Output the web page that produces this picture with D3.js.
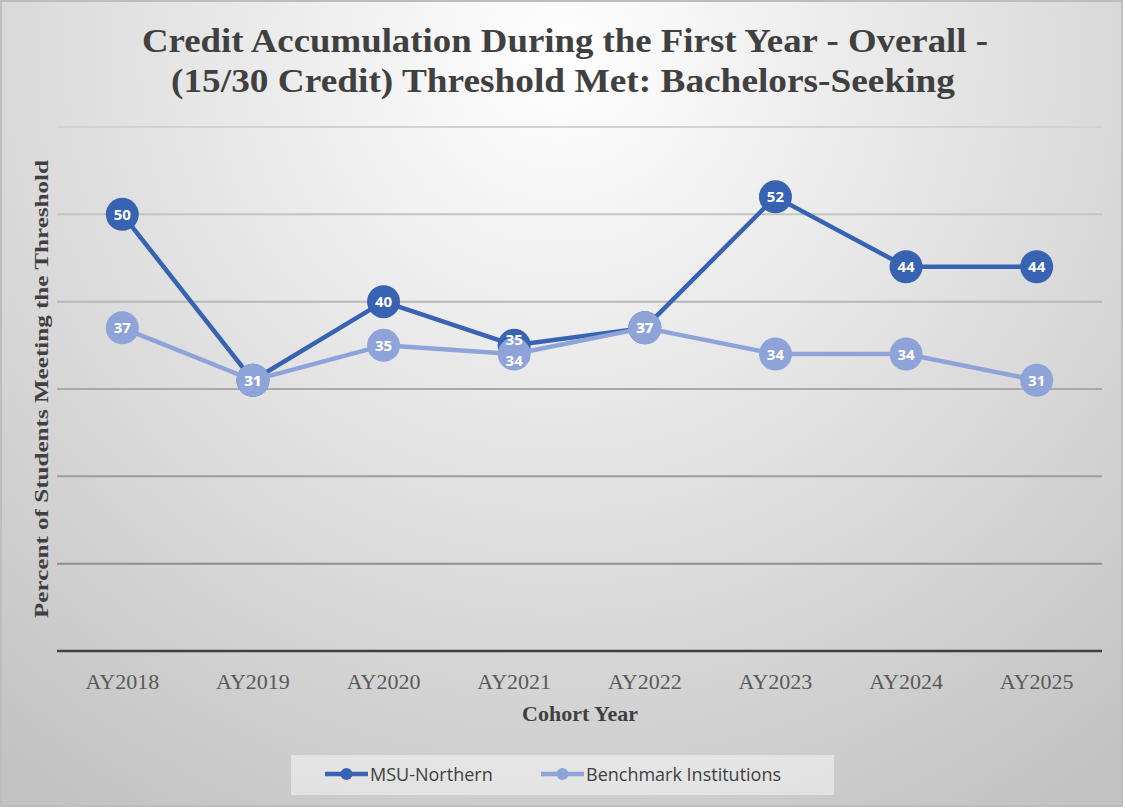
<!DOCTYPE html>
<html>
<head>
<meta charset="utf-8">
<script src="https://cdn.jsdelivr.net/npm/d3@7"></script>
<style>
  html, body { margin: 0; padding: 0; background: #fff; }
  svg { display: block; }
</style>
</head>
<body>
<svg id="chart" width="1125" height="809"></svg>
<script>
// chart data
var years = ["AY2018", "AY2019", "AY2020", "AY2021", "AY2022", "AY2023", "AY2024", "AY2025"];
var msuNorthern = [50, 31, 40, 35, 37, 52, 44, 44];
var benchmark = [37, 31, 35, 34, 37, 34, 34, 31];
var seriesNames = ["MSU-Northern", "Benchmark Institutions"];
var yTicks = [0, 10, 20, 30, 40, 50, 60];

var darkBlue = "#3862b2";
var lightBlue = "#8ea4d9";

function drawChart()
{
  var svg = d3.select("#chart");
  var W = 1125, H = 809;
  var left = 57, right = 1102, top = 127, bottom = 651;

  var defs = svg.append("defs");
  var grad = defs.append("radialGradient")
      .attr("id", "bg")
      .attr("gradientUnits", "userSpaceOnUse")
      .attr("cx", 560).attr("cy", 60).attr("r", 900);
  grad.append("stop").attr("offset", "0%").attr("stop-color", "#ffffff");
  grad.append("stop").attr("offset", "100%").attr("stop-color", "#c2c2c2");

  svg.append("rect")
      .attr("x", 1).attr("y", 1)
      .attr("width", W - 4).attr("height", H - 4)
      .style("fill", "url(#bg)")
      .style("stroke", "#bdbdbd")
      .style("stroke-width", "2px");

  var x = d3.scaleBand().domain(years).range([left, right]);
  var y = d3.scaleLinear().domain([0, 60]).range([bottom, top]);
  var gridColor = d3.scaleLinear().domain([10, 60]).range(["#8e8e8e", "#d2d2d2"]);

  // gridlines
  svg.append("g").selectAll("line")
      .data(yTicks.filter(function(d) { return d > 0; }))
      .enter().append("line")
      .attr("x1", left).attr("x2", right)
      .attr("y1", function(d) { return y(d); })
      .attr("y2", function(d) { return y(d); })
      .style("stroke", function(d) { return gridColor(d); })
      .style("stroke-width", "2px");

  // x axis
  var xAxis = svg.append("g")
      .attr("transform", "translate(0," + bottom + ")")
      .call(d3.axisBottom(x).tickSize(0).tickPadding(22));
  xAxis.select(".domain").remove();
  xAxis.append("line")
      .attr("x1", left).attr("x2", right)
      .style("stroke", "#404040")
      .style("stroke-width", "2.5px");
  xAxis.selectAll("text")
      .style("font-family", "'Liberation Serif', 'DejaVu Serif', serif")
      .style("font-size", "22px")
      .style("fill", "#595959");

  // titles
  var title = svg.append("g")
      .style("font-family", "'Liberation Serif', 'DejaVu Serif', serif")
      .style("font-weight", "bold")
      .style("fill", "#404040")
      .attr("text-anchor", "middle");
  title.append("text").attr("x", 565).attr("y", 52)
      .style("font-size", "34px")
      .attr("textLength", 846).attr("lengthAdjust", "spacingAndGlyphs")
      .text("Credit Accumulation During the First Year - Overall -");
  title.append("text").attr("x", 563).attr("y", 92)
      .style("font-size", "34px")
      .attr("textLength", 784).attr("lengthAdjust", "spacingAndGlyphs")
      .text("(15/30 Credit) Threshold Met: Bachelors-Seeking");

  svg.append("text")
      .attr("x", 580).attr("y", 721)
      .attr("text-anchor", "middle")
      .style("font-family", "'Liberation Serif', 'DejaVu Serif', serif")
      .style("font-weight", "bold")
      .style("font-size", "22px")
      .style("fill", "#404040")
      .text("Cohort Year");

  svg.append("text")
      .attr("transform", "translate(48,389) rotate(-90)")
      .attr("text-anchor", "middle")
      .style("font-family", "'Liberation Serif', 'DejaVu Serif', serif")
      .style("font-weight", "bold")
      .style("font-size", "19px")
      .style("fill", "#404040")
      .attr("textLength", 458).attr("lengthAdjust", "spacingAndGlyphs")
      .text("Percent of Students Meeting the Threshold");

  // series
  var series = [
    { name: seriesNames[0], values: msuNorthern, color: darkBlue },
    { name: seriesNames[1], values: benchmark, color: lightBlue }
  ];
  var cx = function(d, i) { return x(years[i]) + x.bandwidth() / 2; };
  var line = d3.line()
      .x(cx)
      .y(function(d) { return y(d); });

  series.forEach(function(s) {
    var g = svg.append("g");
    g.append("path")
        .attr("d", line(s.values))
        .style("fill", "none")
        .style("stroke", s.color)
        .style("stroke-width", "4.5px")
        .style("stroke-linejoin", "round");
    g.selectAll("circle")
        .data(s.values)
        .enter().append("circle")
        .attr("cx", cx)
        .attr("cy", function(d) { return y(d); })
        .attr("r", 16.5)
        .style("fill", s.color);
  });

  // labels: push apart when the two points nearly coincide
  function labelY(si, i) {
    var a = y(msuNorthern[i]), b = y(benchmark[i]);
    var own = si === 0 ? a : b;
    var gap = Math.abs(a - b);
    if (gap === 0 || gap >= 21) return own;
    var mid = (a + b) / 2;
    return own < mid ? mid - 10.5 : mid + 10.5;
  }

  series.forEach(function(s, si) {
    svg.append("g").selectAll("text")
        .data(s.values)
        .enter().append("text")
        .attr("x", cx)
        .attr("y", function(d, i) { return labelY(si, i) + 5.5; })
        .attr("text-anchor", "middle")
        .style("font-family", "'Open Sans', 'Noto Sans', sans-serif")
        .style("font-weight", "bold")
        .style("font-size", "15px")
        .style("fill", "#ffffff")
        .text(function(d) { return d; });
  });

  // legend
  var lg = svg.append("g");
  lg.append("rect")
      .attr("x", 291).attr("y", 755)
      .attr("width", 543).attr("height", 40)
      .style("fill", "#ffffff")
      .style("fill-opacity", 0.45);
  var items = [
    { name: seriesNames[0], color: darkBlue, x0: 325 },
    { name: seriesNames[1], color: lightBlue, x0: 541 }
  ];
  items.forEach(function(it) {
    lg.append("line")
        .attr("x1", it.x0).attr("x2", it.x0 + 43)
        .attr("y1", 774).attr("y2", 774)
        .style("stroke", it.color)
        .style("stroke-width", "4.5px");
    lg.append("circle")
        .attr("cx", it.x0 + 21.5).attr("cy", 774).attr("r", 6)
        .style("fill", it.color);
    lg.append("text")
        .attr("x", it.x0 + 45).attr("y", 781)
        .style("font-family", "'Open Sans', 'Noto Sans', sans-serif")
        .style("font-size", "18px")
        .style("fill", "#404040")
        .text(it.name);
  });
}

drawChart();
</script>
</body>
</html>
